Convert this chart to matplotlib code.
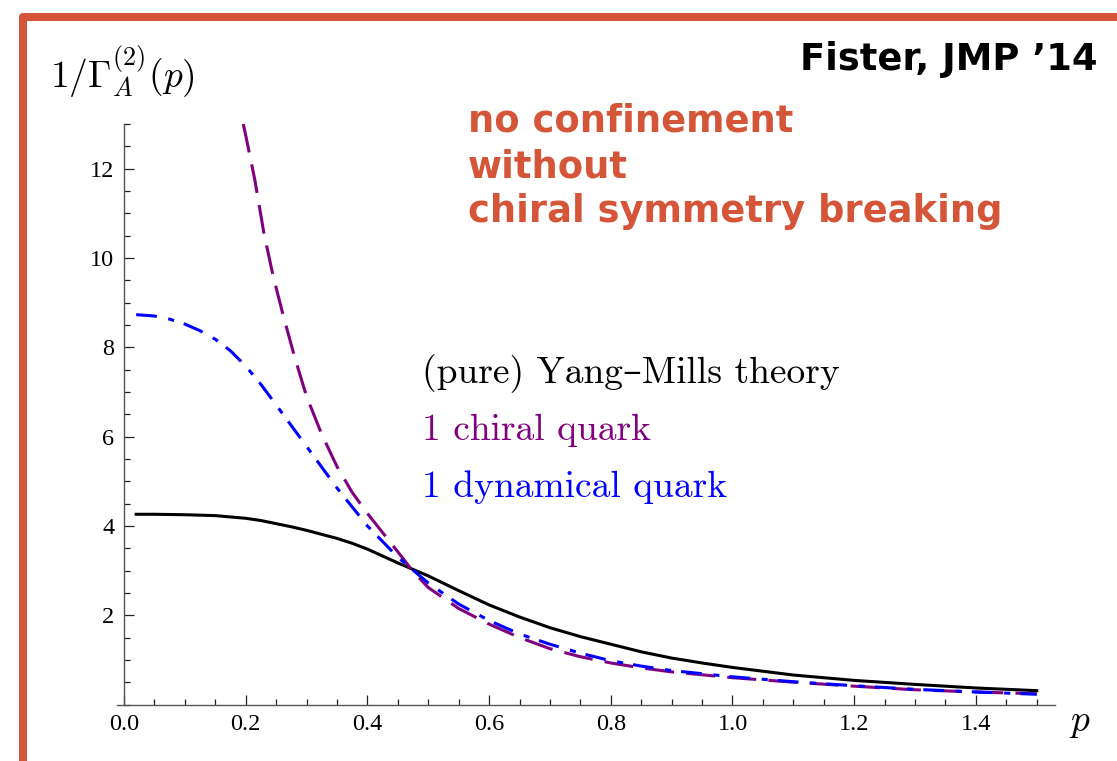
import numpy as np
import matplotlib
matplotlib.use("Agg")
import matplotlib.pyplot as plt
from matplotlib.lines import Line2D
from matplotlib.ticker import MultipleLocator, FixedLocator

plt.rcParams['mathtext.fontset'] = 'cm'

# (pure) Yang-Mills
p_ym = [0.02, 0.05, 0.1, 0.125, 0.15, 0.175, 0.2, 0.225, 0.25, 0.275, 0.3, 0.325, 0.35,
        0.375, 0.4, 0.45, 0.5, 0.55, 0.6, 0.65, 0.7, 0.75, 0.8, 0.85, 0.9, 0.95, 1.0,
        1.1, 1.2, 1.3, 1.4, 1.5]
g_ym = [4.26, 4.26, 4.25, 4.24, 4.23, 4.20, 4.17, 4.12, 4.05, 3.98, 3.90, 3.81, 3.72,
        3.61, 3.48, 3.17, 2.88, 2.55, 2.23, 1.96, 1.72, 1.52, 1.35, 1.18, 1.04, 0.93, 0.83,
        0.66, 0.54, 0.45, 0.37, 0.31]

# 1 chiral quark
p_chi = [0.196, 0.2, 0.215, 0.23, 0.245, 0.26, 0.28, 0.3, 0.325, 0.35, 0.375, 0.4,
         0.425, 0.45, 0.475, 0.5, 0.55, 0.6, 0.65, 0.7, 0.75, 0.8, 0.85, 0.9, 1.0,
         1.1, 1.2, 1.3, 1.4, 1.5]
g_chi = [13.0, 12.75, 11.75, 10.55, 9.6, 8.8, 7.8, 6.9, 6.05, 5.33, 4.75, 4.28,
         3.85, 3.42, 2.98, 2.62, 2.15, 1.80, 1.50, 1.25, 1.07, 0.93, 0.82, 0.73, 0.60,
         0.50, 0.41, 0.33, 0.28, 0.24]

# 1 dynamical quark
p_dyn = [0.02, 0.05, 0.075, 0.1, 0.125, 0.15, 0.175, 0.2, 0.225, 0.25, 0.3, 0.35, 0.4,
         0.45, 0.5, 0.55, 0.6, 0.65, 0.7, 0.75, 0.8, 0.85, 0.9, 1.0, 1.1, 1.2, 1.3,
         1.4, 1.5]
g_dyn = [8.73, 8.70, 8.63, 8.52, 8.37, 8.18, 7.92, 7.58, 7.17, 6.71, 5.78, 4.85, 4.00,
         3.30, 2.72, 2.25, 1.88, 1.58, 1.35, 1.15, 0.98, 0.86, 0.76, 0.62, 0.51, 0.42,
         0.34, 0.28, 0.23]

x_major = [0.0, 0.2, 0.4, 0.6, 0.8, 1.0, 1.2, 1.4]
y_major = [2, 4, 6, 8, 10, 12]

W, H = 1117, 761
orange = '#D45538'
purple = '#800080'


def fx(px):
    return px / W


def fy(py):
    return 1 - py / H


fig = plt.figure(figsize=(W / 100, H / 100), dpi=100)
ax = fig.add_axes([117 / W, 56.5 / H, 938 / W, 580.5 / H])

ax.plot(p_ym, g_ym, color='black', lw=2.2)
ax.plot(p_chi, g_chi, color=purple, lw=2.2, dashes=(9.5, 4))
ax.plot(p_dyn, g_dyn, color='blue', lw=2.2, dashes=(6.8, 3.8, 2, 3.3))

ax.set_xlim(-0.0115, 1.53)
ax.set_ylim(0, 13.0)
ax.spines['left'].set_position(('data', 0))
for s in ('top', 'right'):
    ax.spines[s].set_visible(False)
for s in ('left', 'bottom'):
    ax.spines[s].set_color('#555555')
    ax.spines[s].set_linewidth(1.0)

ax.xaxis.set_major_locator(FixedLocator(x_major))
ax.xaxis.set_minor_locator(MultipleLocator(0.05))
ax.yaxis.set_major_locator(FixedLocator(y_major))
ax.yaxis.set_minor_locator(MultipleLocator(0.5))
ax.set_xticklabels(['%.1f' % v for v in x_major])
ax.set_yticklabels([str(v) for v in y_major])
ax.tick_params(which='major', direction='in', length=7.5, width=0.9, color='#222222',
               labelsize=17.5, pad=7)
ax.tick_params(which='minor', direction='in', length=4.3, width=0.9, color='#222222')
for lab in ax.get_xticklabels() + ax.get_yticklabels():
    lab.set_fontfamily('Liberation Serif')

# slide frame
frame = Line2D([fx(23), fx(23), fx(1200)], [fy(800), fy(17), fy(17)],
               transform=fig.transFigure, color=orange, lw=5.8,
               solid_joinstyle='round', clip_on=False)
fig.add_artist(frame)

fig.text(fx(50), fy(88), r'$1/\Gamma_A^{(2)}(p)$', fontsize=27, va='baseline')
fig.text(fx(1080), fy(722), r'$p$', fontsize=27, ha='center', va='center')

fig.text(fx(1098), fy(70), 'Fister, JMP \u201914', fontsize=26.6, fontweight='bold',
         family='DejaVu Sans', ha='right', va='baseline')
for txt, by in [('no confinement', 132), ('without', 177),
                ('chiral symmetry breaking', 222)]:
    fig.text(fx(468), fy(by), txt, fontsize=26.6, fontweight='bold',
             family='DejaVu Sans', color=orange, va='baseline')

serif = ['cmr10', 'DejaVu Serif']
fig.text(fx(422), fy(383), '(pure) Yang\u2013Mills theory', fontsize=27,
         family=serif, color='black', va='baseline')
fig.text(fx(422), fy(440), '1 chiral quark', fontsize=27,
         family=serif, color=purple, va='baseline')
fig.text(fx(422), fy(497), '1 dynamical quark', fontsize=27,
         family=serif, color='blue', va='baseline')

fig.savefig('out.png', dpi=100)
